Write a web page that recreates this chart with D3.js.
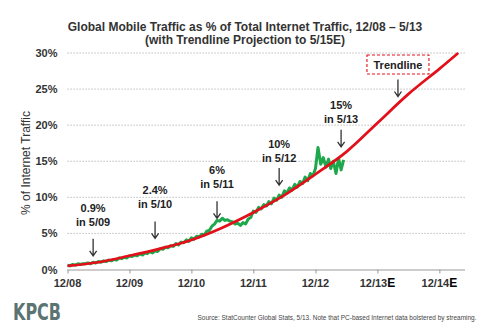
<!DOCTYPE html>
<html>
<head>
<meta charset="utf-8">
<script src="https://cdn.jsdelivr.net/npm/d3@7"></script>
<style>
  body { margin: 0; background: #fff; }
  text { font-family: "Liberation Sans", Arial, sans-serif; }
</style>
</head>
<body>
<div id="chart"></div>
<script>
// tick labels on the x axis (december of each year)
var tickMonths = [0, 12, 24, 36, 48, 60, 72];
var tickLabels = ["12/08", "12/09", "12/10", "12/11", "12/12", "12/13", "12/14"];
var tickSuffix = ["", "", "", "", "", "E", "E"];
var yTicks = [0, 5, 10, 15, 20, 25, 30];

// mobile share of traffic, every half month from 12/08 to 5/13 (%)
var mobileValues = [
    0.6, 0.5, 0.7, 0.6, 0.8, 0.7, 0.8, 0.8, 0.9, 0.8, 1.0, 0.9,
    1.1, 1.0, 1.2, 1.1, 1.3, 1.2, 1.4, 1.3, 1.6, 1.5, 1.7, 1.6,
    1.9, 1.8, 2.0, 1.9, 2.2, 2.0, 2.3, 2.2, 2.5, 2.3, 2.6, 2.5,
    2.9, 2.8, 3.1, 3.0, 3.3, 3.2, 3.6, 3.4, 3.8, 3.7, 4.1, 3.9,
    4.4, 4.2, 4.6, 4.5, 4.9, 4.8, 5.3, 5.4, 6.0, 6.3, 6.8, 6.7,
    7.1, 6.8, 6.9, 6.7, 6.6, 6.3, 6.4, 6.1, 6.5, 6.3, 7.0, 7.2,
    8.1, 7.9, 8.6, 8.4, 9.0, 8.8, 9.4, 9.1, 9.9, 9.6, 10.3, 10.0,
    10.9, 10.6, 11.3, 11.0, 11.8, 11.4, 12.2, 11.9, 12.8, 12.3, 13.3, 13.0,
    14.0, 16.9, 14.6, 15.5, 14.2, 15.3, 14.0, 15.0, 13.3, 15.4, 13.8, 15.2
];

// trendline projection (month offset from 12/08, %)
var trendMonths = [0, 6, 12, 18, 24, 30, 36, 42, 48, 54, 60, 66, 72, 75.7];
var trendValues = [0.5, 1.0, 1.9, 2.9, 4.1, 5.8, 7.9, 10.3, 13.2, 16.3, 20.3, 24.3, 27.8, 30];

// callouts
var noteMonths = [5, 17, 29, 41, 53];
var noteTop = ["0.9%", "2.4%", "6%", "10%", "15%"];
var noteBottom = ["in 5/09", "in 5/10", "in 5/11", "in 5/12", "in 5/13"];
var noteTextLevel = [8.0, 10.4, 13.3, 16.9, 22.2];
var noteTipLevel = [1.9, 4.3, 7.1, 11.7, 17.0];
var trendNoteMonth = 64;

var width = 479, height = 326;

// month offset -> date
function monthDate(m){
    var whole = Math.floor(m);
    return new Date(2008, 11 + whole, 1 + Math.round((m - whole) * 30));
}

var svg = d3.select("#chart")
    .append("svg")
    .attr("width", width)
    .attr("height", height);

var x = d3.scaleTime()
    .domain([monthDate(0), monthDate(77)])
    .range([67.5, 465]);

var y = d3.scaleLinear()
    .domain([0, 30])
    .range([269.5, 53]);

//title
svg.append("text")
    .attr("x", 245).attr("y", 31)
    .attr("text-anchor", "middle")
    .style("font-size", "12px").style("font-weight", "bold").style("fill", "#333")
    .text("Global Mobile Traffic as % of Total Internet Traffic, 12/08 \u2013 5/13");
svg.append("text")
    .attr("x", 245).attr("y", 44)
    .attr("text-anchor", "middle")
    .style("font-size", "12px").style("font-weight", "bold").style("fill", "#333")
    .text("(with Trendline Projection to 5/15E)");

// gridlines
svg.selectAll(".grid")
    .data(yTicks.filter(function(d){ return d > 0; }))
    .enter()
    .append("line")
    .attr("class", "grid")
    .attr("x1", 67.5).attr("x2", 466)
    .attr("y1", function(d){ return y(d); })
    .attr("y2", function(d){ return y(d); })
    .attr("stroke", "#999")
    .attr("stroke-width", 0.8)
    .attr("stroke-dasharray", "1.2,1.8");

// y labels
svg.selectAll(".ylab")
    .data(yTicks)
    .enter()
    .append("text")
    .attr("class", "ylab")
    .attr("x", 57.5)
    .attr("y", function(d){ return y(d) + 4; })
    .attr("text-anchor", "end")
    .style("font-size", "11px").style("font-weight", "bold").style("fill", "#333")
    .text(function(d){ return d + "%"; });

svg.append("text")
    .attr("transform", "translate(30,163) rotate(-90)")
    .attr("text-anchor", "middle")
    .style("font-size", "12px").style("fill", "#333")
    .text("% of Internet Traffic");

// x axis
var xAxis = d3.axisBottom(x)
    .tickValues(tickMonths.map(monthDate))
    .tickSize(4)
    .tickFormat("");
var gx = svg.append("g")
    .attr("transform", "translate(0," + y(0) + ")")
    .call(xAxis);
gx.select(".domain").attr("stroke", "#999").attr("d", "M67.5,0.5H465");
gx.selectAll(".tick line").attr("stroke", "#999");

var xlab = svg.selectAll(".xlab")
    .data(tickMonths)
    .enter()
    .append("text")
    .attr("class", "xlab")
    .attr("x", function(d){ return x(monthDate(d)); })
    .attr("y", 287)
    .attr("text-anchor", "middle")
    .style("font-size", "11px").style("font-weight", "bold").style("fill", "#333");
xlab.append("tspan").text(function(d, i){ return tickLabels[i]; });
xlab.append("tspan")
    .style("fill", "#000").style("font-size", "12px")
    .text(function(d, i){ return tickSuffix[i]; });

// mobile traffic line
var mobileLine = d3.line()
    .x(function(d, i){ return x(monthDate(i * 0.5)); })
    .y(function(d){ return y(d); });
svg.append("path")
    .datum(mobileValues)
    .attr("d", mobileLine)
    .attr("fill", "none")
    .attr("stroke", "#1ea84b")
    .attr("stroke-width", 3)
    .attr("stroke-linejoin", "round");

// trendline
var trendLine = d3.line()
    .x(function(d, i){ return x(monthDate(trendMonths[i])); })
    .y(function(d){ return y(d); })
    .curve(d3.curveCatmullRom);
svg.append("path")
    .datum(trendValues)
    .attr("d", trendLine)
    .attr("fill", "none")
    .attr("stroke", "#e3101b")
    .attr("stroke-width", 2.7);

// arrow from tip upwards
function drawArrow(cx, tip){
    svg.append("path")
        .attr("d", "M" + cx + "," + (tip - 17) + "V" + tip +
              "M" + (cx - 3.5) + "," + (tip - 5) + "L" + cx + "," + tip + "L" + (cx + 3.5) + "," + (tip - 5))
        .attr("fill", "none")
        .attr("stroke", "#333")
        .attr("stroke-width", 1.3);
}

noteMonths.forEach(function(m, i){
    var cx = x(monthDate(m));
    var ty = y(noteTextLevel[i]);
    svg.append("text")
        .attr("x", cx).attr("y", ty)
        .attr("text-anchor", "middle")
        .style("font-size", "11px").style("font-weight", "bold").style("fill", "#222")
        .text(noteTop[i]);
    svg.append("text")
        .attr("x", cx).attr("y", ty + 14)
        .attr("text-anchor", "middle")
        .style("font-size", "11px").style("font-weight", "bold").style("fill", "#222")
        .text(noteBottom[i]);
    drawArrow(cx, y(noteTipLevel[i]));
});

// trendline label
var tx = x(monthDate(trendNoteMonth));
svg.append("rect")
    .attr("x", tx - 31).attr("y", 55)
    .attr("width", 62).attr("height", 19)
    .attr("fill", "#fff")
    .attr("stroke", "#e3101b")
    .attr("stroke-width", 1.1)
    .attr("stroke-dasharray", "3,2");
svg.append("text")
    .attr("x", tx).attr("y", 69)
    .attr("text-anchor", "middle")
    .style("font-size", "11px").style("font-weight", "bold").style("fill", "#222")
    .text("Trendline");
drawArrow(tx, 96.5);

// footer
svg.append("text")
    .attr("x", 13).attr("y", 319.5)
    .attr("textLength", 48)
    .attr("lengthAdjust", "spacingAndGlyphs")
    .style("font-family", "'DejaVu Sans Condensed', 'DejaVu Sans', sans-serif")
    .style("font-size", "23px").style("font-weight", "bold").style("fill", "#5b7371")
    .text("KPCB");
svg.append("text")
    .attr("x", 476.5).attr("y", 320)
    .attr("text-anchor", "end")
    .attr("textLength", 279)
    .attr("lengthAdjust", "spacingAndGlyphs")
    .style("font-size", "6.5px").style("fill", "#444")
    .text("Source: StatCounter Global Stats, 5/13. Note that PC-based Internet data bolstered by streaming.");
</script>
</body>
</html>
